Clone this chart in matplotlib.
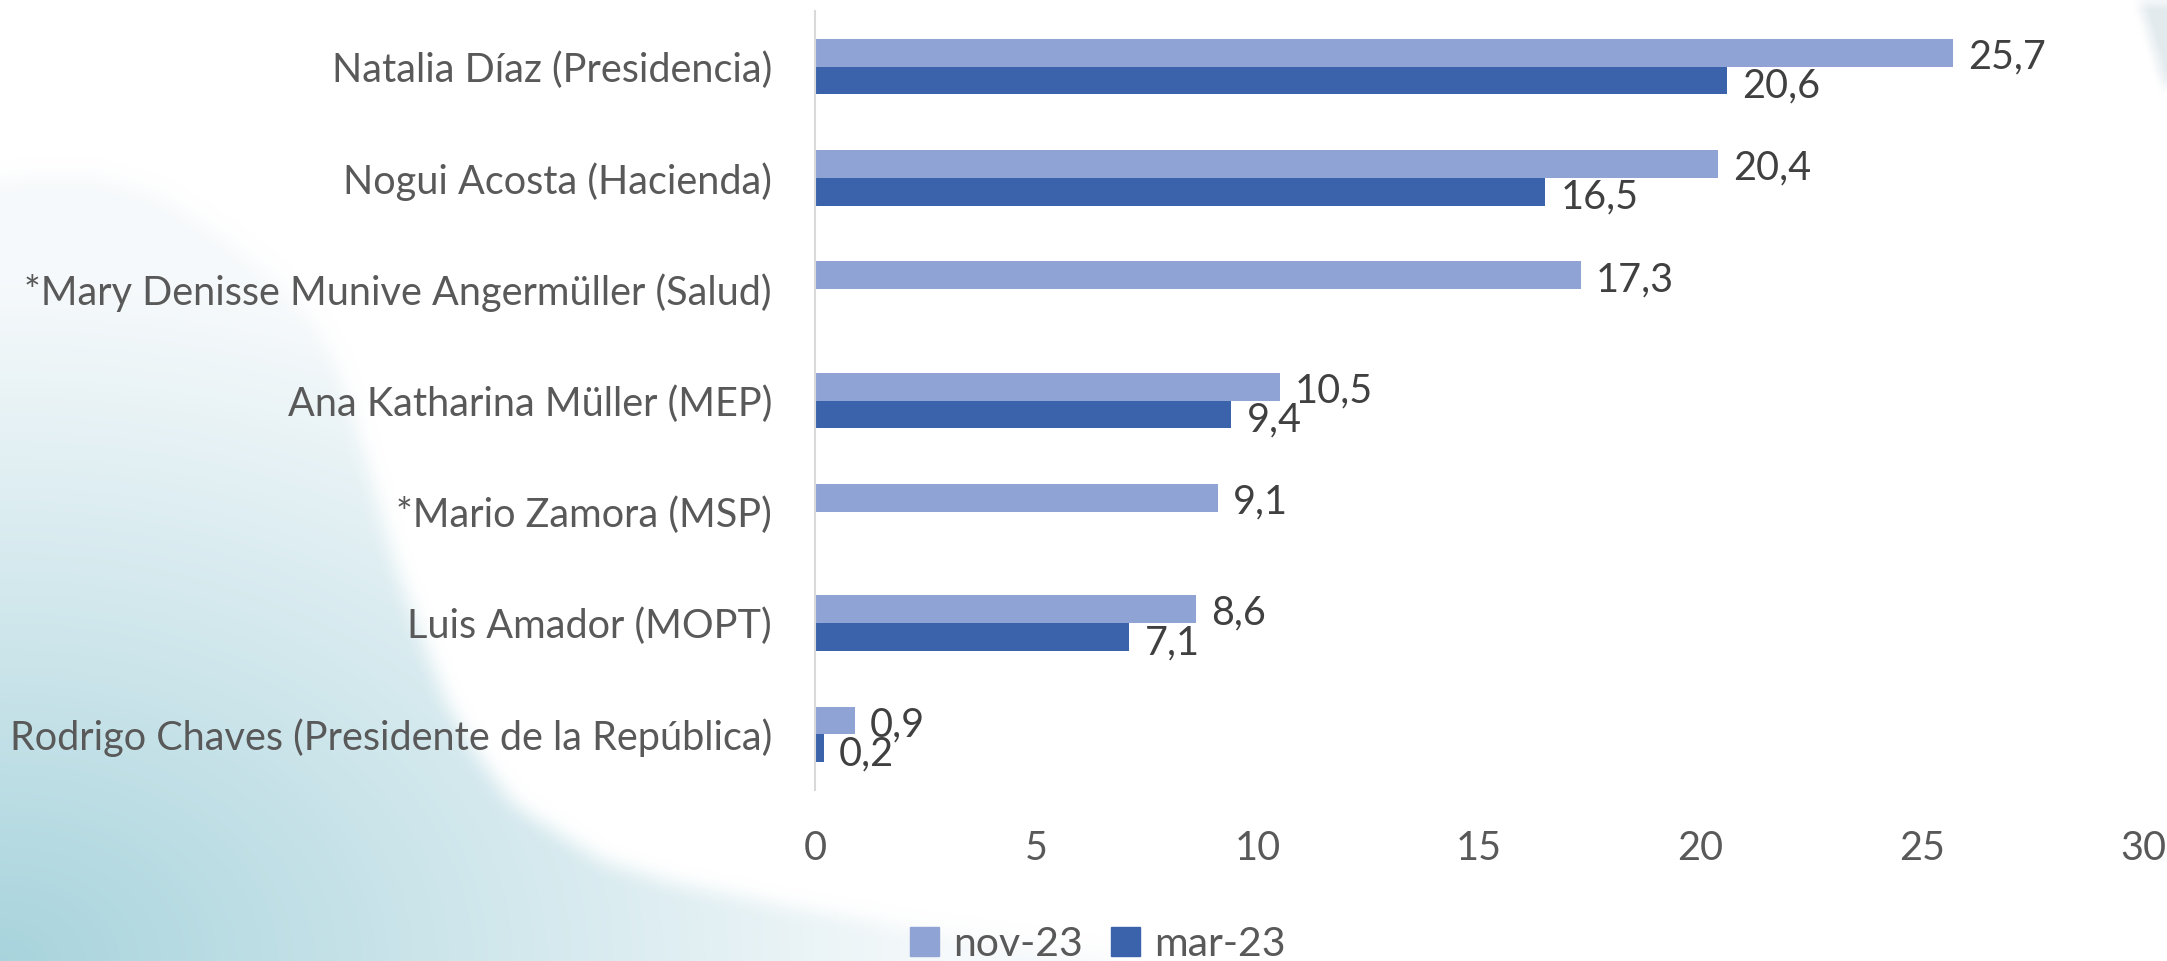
import numpy as np
import matplotlib.pyplot as plt
from matplotlib.patches import Polygon, Patch
from matplotlib.path import Path

# data (top to bottom)
categories = [
    "Natalia Díaz (Presidencia)",
    "Nogui Acosta (Hacienda)",
    "*Mary Denisse Munive Angermüller (Salud)",
    "Ana Katharina Müller (MEP)",
    "*Mario Zamora (MSP)",
    "Luis Amador (MOPT)",
    "Rodrigo Chaves (Presidente de la República)",
]
nov_23 = [25.7, 20.4, 17.3, 10.5, 9.1, 8.6, 0.9]
mar_23 = [20.6, 16.5, None, 9.4, None, 7.1, 0.2]
series_names = ["nov-23", "mar-23"]
x_ticks = [0, 5, 10, 15, 20, 25, 30]

c_nov = "#8FA3D5"
c_mar = "#3B63AC"
txt_grey = "#595959"
txt_dark = "#404040"
fs = 28.5

plt.rcParams["font.family"] = ["Lato", "DejaVu Sans"]

W, H = 2167, 961
fig = plt.figure(figsize=(W / 100, H / 100), dpi=100)


def box_blur(a, k):
    # separable box blur, edges padded
    p = np.pad(a, k, mode="edge")
    c = np.cumsum(p, axis=0)
    c = np.vstack([np.zeros((1, c.shape[1])), c])
    a = (c[2 * k + 1:] - c[:-2 * k - 1]) / (2 * k + 1)
    c = np.cumsum(a, axis=1)
    c = np.hstack([np.zeros((c.shape[0], 1)), c])
    return (c[:, 2 * k + 1:] - c[:, :-2 * k - 1]) / (2 * k + 1)


# --- decorative background (teal wash bottom-left) ---
bg = fig.add_axes([0, 0, 1, 1], zorder=0)
step = 3
yy, xx = np.mgrid[0:H:step, 0:W:step]
d = np.sqrt((xx / 950.0) ** 2 + ((H - yy) / 680.0) ** 2).clip(0, 1)
dark = np.array([0.66, 0.83, 0.865])
light = np.array([0.965, 0.978, 0.985])
rgb = dark + (light - dark) * d[..., None]
blob_pts = [(0, 180), (40, 174), (89, 174), (160, 195), (223, 237), (275, 280),
            (312, 320), (333, 360), (348, 402), (365, 460), (379, 512), (396, 570),
            (415, 622), (446, 704), (480, 760), (513, 805), (557, 833), (603, 862),
            (672, 883), (787, 907), (902, 927), (1017, 943), (1131, 961),
            (1131, 1000), (-50, 1000), (-50, 180)]
inside = Path(blob_pts).contains_points(np.c_[xx.ravel(), yy.ravel()]).reshape(xx.shape)
alpha = box_blur(box_blur(inside.astype(float), 3), 3)
img = np.dstack([rgb, alpha])
bg.imshow(img, extent=[0, W, H, 0], interpolation="bilinear", aspect="auto")

wedge_pts = [(2140, 0), (2200, 0), (2200, 100), (2167, 90)]
inside = Path(wedge_pts).contains_points(np.c_[xx.ravel(), yy.ravel()]).reshape(xx.shape)
alpha = box_blur(inside.astype(float), 2)
wedge = np.zeros(xx.shape + (4,))
wedge[..., :3] = [0.89, 0.92, 0.937]
wedge[..., 3] = alpha
bg.imshow(wedge, extent=[0, W, H, 0], interpolation="bilinear", aspect="auto")
bg.set_xlim(0, W)
bg.set_ylim(H, 0)
bg.axis("off")

# --- main chart ---
ax = fig.add_axes([815 / W, 1 - 790 / H, (2143 - 815) / W, (790 - 11) / H], zorder=1)
ax.patch.set_alpha(0)

y = np.arange(len(categories))
bh = 0.25
ax.barh(y - bh / 2, nov_23, height=bh, color=c_nov, zorder=2)
for i, v in enumerate(nov_23):
    ax.annotate(f"{v:.1f}".replace(".", ","), (v, y[i] - bh / 2), xytext=(11, -3),
                textcoords="offset points", va="center", ha="left",
                fontsize=fs, color=txt_dark)
for i, v in enumerate(mar_23):
    if v is None:
        continue
    ax.barh(y[i] + bh / 2, v, height=bh, color=c_mar, zorder=2)
    ax.annotate(f"{v:.1f}".replace(".", ","), (v, y[i] + bh / 2), xytext=(11, -4),
                textcoords="offset points", va="center", ha="left",
                fontsize=fs, color=txt_dark)

ax.set_xlim(0, 30)
ax.set_ylim(len(categories) - 0.5, -0.5)
ax.set_xticks(x_ticks)
ax.set_xticklabels([str(t) for t in x_ticks])
ax.set_yticks(y)
ax.set_yticklabels(categories)
ax.tick_params(axis="x", length=0, pad=29, labelsize=fs, labelcolor=txt_grey)
ax.tick_params(axis="y", length=0, pad=31, labelsize=fs, labelcolor=txt_grey)
for s in ["top", "right", "bottom"]:
    ax.spines[s].set_visible(False)
ax.spines["left"].set_color("#D9D9D9")
ax.spines["left"].set_linewidth(1.5)

handles = [Patch(color=c_nov, label=series_names[0]), Patch(color=c_mar, label=series_names[1])]
fig.legend(handles=handles, loc="center", bbox_to_anchor=(1098 / W, 1 - 944 / H), ncol=2,
           frameon=False, fontsize=fs + 1, labelcolor=txt_grey, handlelength=0.7,
           handleheight=0.7, handletextpad=0.35, columnspacing=0.7)

fig.savefig("out.png", dpi=100)
